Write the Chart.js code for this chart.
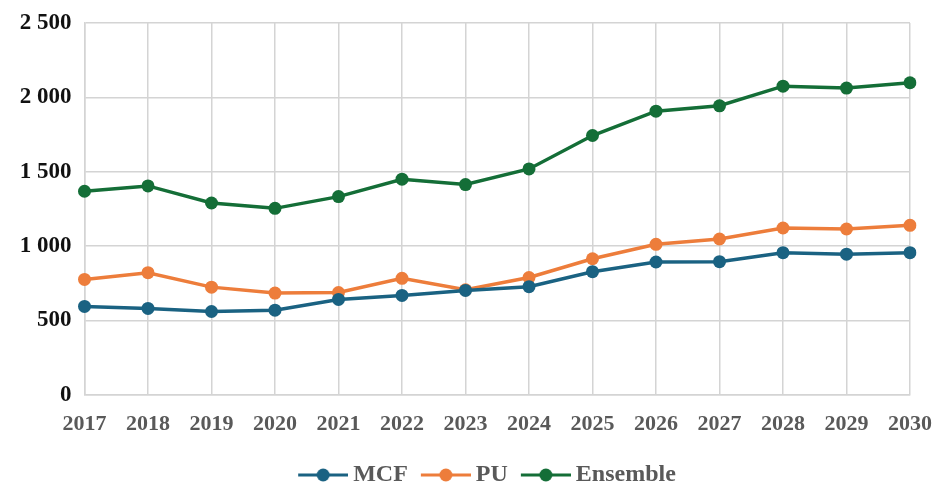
<!DOCTYPE html>
<html>
<head>
  <meta charset="UTF-8">
  <title>MCF PU Ensemble</title>
  <script src="https://cdn.jsdelivr.net/npm/chart.js"></script>
  <style>
    body { margin: 0; background: white; }
    #wrap { width: 935px; height: 484px; }
  </style>
</head>
<body>
  <div id="wrap"><canvas id="myChart" width="935" height="484"></canvas></div>
  <script>
    const years = ['2017', '2018', '2019', '2020', '2021', '2022', '2023', '2024', '2025', '2026', '2027', '2028', '2029', '2030'];
    const mcf = [593, 580, 559, 568, 640, 667, 701, 726, 827, 892, 894, 955, 945, 955];
    const pu = [775, 820, 723, 683, 687, 782, 705, 788, 914, 1011, 1047, 1121, 1114, 1139];
    const ensemble = [1368, 1404, 1289, 1253, 1332, 1449, 1413, 1518, 1743, 1907, 1943, 2075, 2062, 2098];
    const yTicks = [0, 500, 1000, 1500, 2000, 2500];

    const serif = "'Liberation Serif', 'Times New Roman', serif";

    // legend marker: short line with a dot, shifted right so it sits close to its text
    function legendMark(color) {
      const c = document.createElement('canvas');
      c.width = 66; c.height = 14;
      const g = c.getContext('2d');
      g.strokeStyle = color;
      g.lineWidth = 3;
      g.beginPath();
      g.moveTo(16, 7);
      g.lineTo(66, 7);
      g.stroke();
      g.fillStyle = color;
      g.beginPath();
      g.arc(41, 7, 6.5, 0, Math.PI * 2);
      g.fill();
      return c;
    }

    function fmt(v) {
      return String(v).replace(/\B(?=(\d{3})+(?!\d))/g, ' ');
    }

    function ds(label, data, color) {
      return {
        label: label,
        data: data,
        borderColor: color,
        backgroundColor: color,
        borderWidth: 3.5,
        pointRadius: 6.5,
        pointBackgroundColor: color,
        pointBorderWidth: 0,
        tension: 0,
        fill: false
      };
    }

    // nudge the legend box (right and down) after layout
    const legendNudge = {
      id: 'legendNudge',
      afterLayout(chart) {
        const lg = chart.legend;
        if (!lg) return;
        lg.left += 15; lg.right += 15;
        lg.top += 4; lg.bottom += 4;
        lg.adjustHitBoxes();
      }
    };

    const ctx = document.getElementById('myChart').getContext('2d');
    const myChart = new Chart(ctx, {
      type: 'line',
      data: {
        labels: years,
        datasets: [
          ds('MCF', mcf, '#1A6282'),
          ds('PU', pu, '#ED7D3B'),
          ds('Ensemble', ensemble, '#146E37')
        ]
      },
      options: {
        responsive: false,
        animation: false,
        layout: { padding: { top: 0, right: 0, left: 0, bottom: -9 } },
        scales: {
          x: {
            offset: false,
            afterFit: (scale) => { scale.paddingRight = 25; scale.paddingLeft = 0; },
            grid: { color: '#d4d4d4', lineWidth: 1.5, drawTicks: false },
            border: { color: '#d4d4d4', width: 1.5 },
            ticks: {
              color: '#595959',
              padding: 17,
              maxRotation: 0,
              autoSkip: false,
              font: { family: serif, size: 22, weight: 'bold' }
            }
          },
          y: {
            min: 0,
            max: 2500,
            afterBuildTicks: (scale) => { scale.ticks = yTicks.map(v => ({ value: v })); },
            afterFit: (scale) => { scale.width = 84.5; scale.paddingTop = 23; scale.paddingBottom = 0; },
            grid: { color: '#d4d4d4', lineWidth: 1.5, drawTicks: false },
            border: { color: '#d4d4d4', width: 1.5 },
            ticks: {
              color: '#111111',
              padding: 13,
              callback: (v) => fmt(v),
              font: { family: serif, size: 23, weight: 'bold' }
            }
          }
        },
        plugins: {
          tooltip: { enabled: false },
          legend: {
            position: 'bottom',
            labels: {
              usePointStyle: true,
              pointStyleWidth: 52,
              padding: 4,
              color: '#595959',
              font: { family: serif, size: 24, weight: 'bold' },
              generateLabels: (chart) => {
                const items = Chart.defaults.plugins.legend.labels.generateLabels(chart);
                items.forEach(it => {
                  it.pointStyle = legendMark(chart.data.datasets[it.datasetIndex].borderColor);
                  it.fontColor = '#595959';
                });
                return items;
              }
            }
          }
        }
      },
      plugins: [legendNudge]
    });
  </script>
</body>
</html>
